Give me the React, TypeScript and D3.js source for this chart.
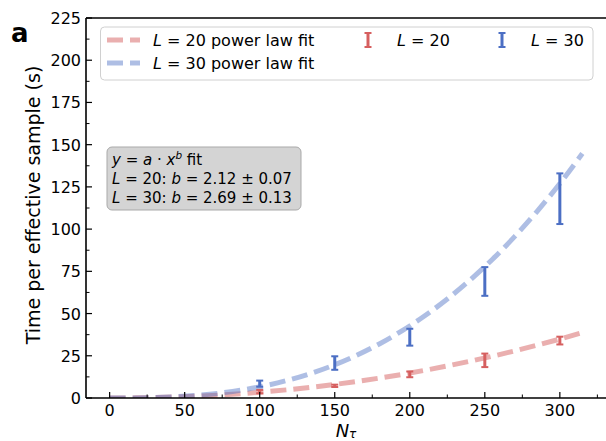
import React from "react";
import * as d3 from "d3";

const W = 606;
const H = 441;

// Measured points (N_tau, mean, error)
const nTau = [100, 150, 200, 250, 300];
const l20Mean = [3.8, 7.2, 14.0, 22.3, 34.0];
const l20Err = [1.0, 0.7, 1.7, 4.0, 2.3];
const l30Mean = [8.5, 20.7, 36.0, 69.0, 118.0];
const l30Err = [1.8, 4.0, 5.0, 8.5, 15.0];

// Power-law fit curves
const fitX = [0, 15, 30, 45, 60, 75, 90, 105, 120, 135, 150, 165, 180, 195, 210, 225, 240, 255, 270, 285, 300, 315];
const fit20 = [0, 0.06, 0.27, 0.63, 1.15, 1.85, 2.72, 3.77, 5.0, 6.42, 8.03, 9.83, 11.82, 14.0, 16.39, 18.97, 21.75, 24.73, 27.91, 31.3, 34.9, 38.7];
const fit30 = [0, 0.04, 0.26, 0.78, 1.67, 3.05, 4.98, 7.54, 10.8, 14.83, 19.69, 25.44, 32.15, 39.86, 48.68, 58.6, 69.7, 82.04, 95.7, 110.7, 127.0, 144.8];

const xTicks = [0, 50, 100, 150, 200, 250, 300];
const xMinor = [25, 75, 125, 175, 225, 275, 325];
const yTicks = [0, 25, 50, 75, 100, 125, 150, 175, 200, 225];
const yMinor = [12.5, 37.5, 62.5, 87.5, 112.5, 137.5, 162.5, 187.5, 212.5];

const RED = "#d65f5f";
const BLUE = "#4c6fc4";
const FONT = "DejaVu Sans, sans-serif";

export default function App() {
  const x = d3.scaleLinear().domain([-15.75, 330.75]).range([86, 606]);
  const y = d3.scaleLinear().domain([0, 225]).range([398, 18]);
  const line = d3
    .line<number>()
    .x((_, i) => x(fitX[i]))
    .y((d) => y(d))
    .curve(d3.curveMonotoneX);

  const errBars = (means: number[], errs: number[], color: string) =>
    nTau.map((n, i) => {
      const cx = x(n);
      const y1 = y(means[i] + errs[i]);
      const y2 = y(means[i] - errs[i]);
      return (
        <g key={n}>
          <line x1={cx} x2={cx} y1={y1} y2={y2} stroke={color} strokeWidth={3} />
          <line x1={cx - 3.5} x2={cx + 3.5} y1={y1} y2={y1} stroke={color} strokeWidth={2} />
          <line x1={cx - 3.5} x2={cx + 3.5} y1={y2} y2={y2} stroke={color} strokeWidth={2} />
        </g>
      );
    });

  const legendErr = (cx: number, cy: number, color: string) => (
    <g>
      <line x1={cx} x2={cx} y1={cy - 7} y2={cy + 7} stroke={color} strokeWidth={3} />
      <line x1={cx - 3.5} x2={cx + 3.5} y1={cy - 7} y2={cy - 7} stroke={color} strokeWidth={2} />
      <line x1={cx - 3.5} x2={cx + 3.5} y1={cy + 7} y2={cy + 7} stroke={color} strokeWidth={2} />
    </g>
  );

  const plotL = 86, plotR = 606, plotT = 18, plotB = 398;

  return (
    <svg width={W} height={H} style={{ position: "absolute", left: 0, top: 0, background: "#fff" }} fontFamily={FONT}>
      <defs>
        <clipPath id="plotclip">
          <rect x={plotL} y={plotT} width={plotR - plotL} height={plotB - plotT} />
        </clipPath>
      </defs>

      {/* fit curves */}
      <g clipPath="url(#plotclip)">
        <path d={line(fit20) || ""} fill="none" stroke={RED} strokeOpacity={0.5} strokeWidth={5} strokeDasharray="16,7" />
        <path d={line(fit30) || ""} fill="none" stroke={BLUE} strokeOpacity={0.45} strokeWidth={5} strokeDasharray="16,7" />
        {errBars(l20Mean, l20Err, RED)}
        {errBars(l30Mean, l30Err, BLUE)}
      </g>

      {/* spines */}
      <line x1={plotL} x2={plotL} y1={plotT} y2={plotB} stroke="#000" strokeWidth={1.6} />
      <line x1={plotL} x2={plotR} y1={plotB} y2={plotB} stroke="#000" strokeWidth={1.6} />
      <line x1={plotL} x2={plotR} y1={plotT} y2={plotT} stroke="#000" strokeWidth={1.6} />

      {/* x ticks */}
      {xTicks.map((t) => (
        <g key={"xt" + t}>
          <line x1={x(t)} x2={x(t)} y1={plotB} y2={plotB - 6} stroke="#000" strokeWidth={1.2} />
          <text x={x(t)} y={415.5} textAnchor="middle" fontSize={16} fill="#000">
            {t}
          </text>
        </g>
      ))}
      {xMinor.map((t) => (
        <line key={"xm" + t} x1={x(t)} x2={x(t)} y1={plotB} y2={plotB - 3.5} stroke="#000" strokeWidth={1} />
      ))}
      {/* y ticks */}
      {yTicks.map((t) => (
        <g key={"yt" + t}>
          <line x1={plotL} x2={plotL + 6} y1={y(t)} y2={y(t)} stroke="#000" strokeWidth={1.2} />
          <text x={81} y={y(t) + 6} textAnchor="end" fontSize={16} fill="#000">
            {t}
          </text>
        </g>
      ))}
      {yMinor.map((t) => (
        <line key={"ym" + t} x1={plotL} x2={plotL + 3.5} y1={y(t)} y2={y(t)} stroke="#000" strokeWidth={1} />
      ))}

      {/* axis labels */}
      <text transform={`translate(40,205) rotate(-90)`} textAnchor="middle" fontSize={19} fill="#000">
        Time per effective sample (s)
      </text>
      <text x={346} y={436.5} textAnchor="middle" fontSize={18} fill="#000">
        <tspan fontStyle="italic">N</tspan>
        <tspan fontStyle="italic" fontSize={12} dy={1.5}>τ</tspan>
      </text>

      {/* panel letter */}
      <text x={11} y={42} fontSize={26} fontWeight="bold" fill="#000">a</text>

      {/* legend */}
      <rect x={100.5} y={27} width={492.5} height={53} rx={4} fill="#fff" fillOpacity={0.85} stroke="#d0d0d0" strokeWidth={1} />
      <line x1={107} x2={140} y1={40} y2={40} stroke={RED} strokeOpacity={0.5} strokeWidth={5} strokeDasharray="16,7" />
      <text x={153} y={46} fontSize={16} fill="#000">
        <tspan fontStyle="italic">L</tspan> = 20 power law fit
      </text>
      <text x={153} y={69} fontSize={16} fill="#000">
        <tspan fontStyle="italic">L</tspan> = 30 power law fit
      </text>
      <line x1={107} x2={140} y1={63} y2={63} stroke={BLUE} strokeOpacity={0.45} strokeWidth={5} strokeDasharray="16,7" />
      {legendErr(368, 40, RED)}
      <text x={397} y={46} fontSize={16} fill="#000">
        <tspan fontStyle="italic">L</tspan> = 20
      </text>
      {legendErr(502, 40, BLUE)}
      <text x={531} y={46} fontSize={16} fill="#000">
        <tspan fontStyle="italic">L</tspan> = 30
      </text>

      {/* annotation box */}
      <rect x={107} y={147} width={194} height={63} rx={5} fill="#d4d4d4" stroke="#a9a9a9" strokeWidth={1} />
      <text x={112} y={165} fontSize={15} fill="#000">
        <tspan fontStyle="italic">y</tspan> = <tspan fontStyle="italic">a</tspan> · <tspan fontStyle="italic">x</tspan>
        <tspan fontStyle="italic" fontSize={10.5} dy={-6}>b</tspan>
        <tspan dy={6}> fit</tspan>
      </text>
      <text x={112} y={184} fontSize={15} fill="#000">
        <tspan fontStyle="italic">L</tspan> = 20: <tspan fontStyle="italic">b</tspan> = 2.12 ± 0.07
      </text>
      <text x={112} y={203} fontSize={15} fill="#000">
        <tspan fontStyle="italic">L</tspan> = 30: <tspan fontStyle="italic">b</tspan> = 2.69 ± 0.13
      </text>
    </svg>
  );
}
